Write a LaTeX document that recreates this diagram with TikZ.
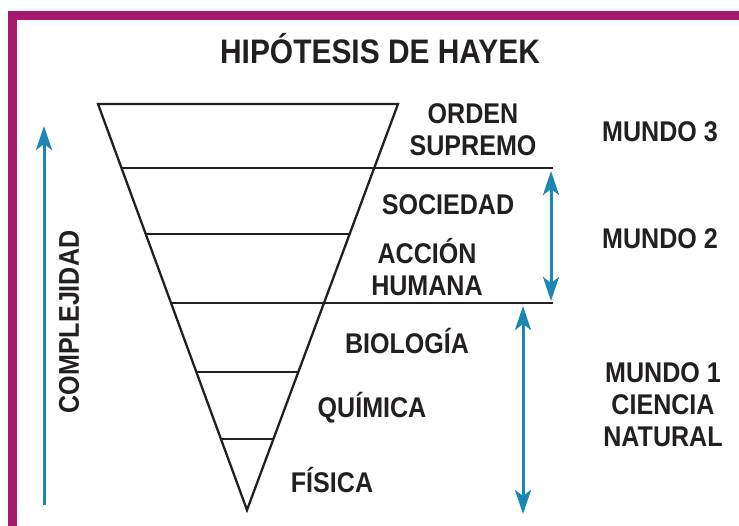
\documentclass[tikz,border=0pt]{standalone}
\usepackage{fontspec}
\setmainfont{Liberation Sans}[FakeStretch=0.88]
\usetikzlibrary{arrows.meta,calc}
\definecolor{borde}{HTML}{A5196F}
\definecolor{flecha}{HTML}{1A87B5}
\definecolor{texto}{HTML}{231F20}
\begin{document}
\begin{tikzpicture}[x=1pt,y=-1pt,
	label/.style={text=texto,font=\bfseries\fontsize{28.5}{32}\selectfont,align=center,inner sep=0pt},
	nivel/.style={line width=2.3pt,texto},
	punta/.style={-{Stealth[length=24pt,width=16pt,inset=6pt]}},
	rango/.style={flecha,line width=3pt,{Stealth[length=24pt,width=16pt,inset=6pt]}-{Stealth[length=24pt,width=16pt,inset=6pt]}}]
	\useasboundingbox (0,0) rectangle (739,525);
	\draw[borde,line width=9pt] (12.5,530) -- (12.5,15.5) -- (745,15.5);

	\node (titulo) [label,font=\bfseries\fontsize{34}{36}\selectfont] at (380,49) {HIPÓTESIS DE HAYEK};

	% piramide invertida
	\coordinate (tl) at (98,104);
	\coordinate (tr) at (398,104);
	\coordinate (ap) at (247,510);
	\coordinate (ext) at (553,0);
	\draw[nivel,line join=miter] (tl) -- (tr) -- (ap) -- cycle;

	\coordinate (a1) at ($(tl)!0.158!(ap)$);
	\coordinate (a2) at ($(tl)!0.320!(ap)$);
	\coordinate (a3) at ($(tl)!0.490!(ap)$);
	\coordinate (a4) at ($(tl)!0.660!(ap)$);
	\coordinate (a5) at ($(tl)!0.825!(ap)$);
	\coordinate (b2) at ($(tr)!0.320!(ap)$);
	\coordinate (b4) at ($(tr)!0.660!(ap)$);
	\coordinate (b5) at ($(tr)!0.825!(ap)$);

	\draw[nivel] (a1) -- (a1 -| ext);
	\draw[nivel] (a2) -- (b2);
	\draw[nivel] (a3) -- (a3 -| ext);
	\draw[nivel] (a4) -- (b4);
	\draw[nivel] (a5) -- (b5);

	\node (orden)    [label] at (473,130) {ORDEN\\SUPREMO};
	\node (sociedad) [label] at (448,205) {SOCIEDAD};
	\node (accion)   [label] at (427,267) {ACCIÓN\\HUMANA};
	\node (biologia) [label] at (407,341) {BIOLOGÍA};
	\node (quimica)  [label] at (372,408) {QUÍMICA};
	\node (fisica)   [label] at (332,480) {FÍSICA};

	\node (mundo3) [label] at (660,132) {MUNDO 3};
	\node (mundo2) [label] at (660,239) {MUNDO 2};
	\node (mundo1) [label] at (663,405) {MUNDO 1\\CIENCIA\\NATURAL};

	\coordinate (m2a) at (551,171);
	\coordinate (m2b) at (551,301);
	\coordinate (m1a) at (523,306);
	\coordinate (m1b) at (523,514);
	\draw[rango] (m2a) -- (m2b);
	\draw[rango] (m1a) -- (m1b);

	\coordinate (c0) at (44,505);
	\coordinate (c1) at (44,126);
	\draw[flecha,line width=3pt,punta] (c0) -- (c1);
	\node (complejidad) [label,rotate=90] at (69,322) {COMPLEJIDAD};
\end{tikzpicture}
\end{document}
